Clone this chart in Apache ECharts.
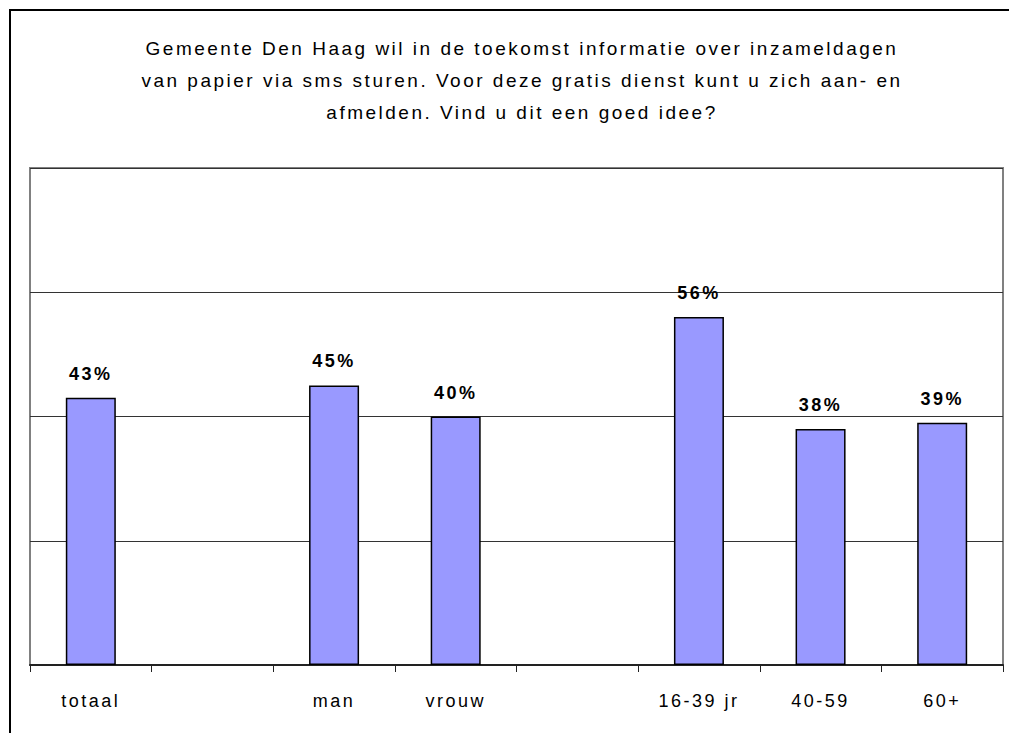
<!DOCTYPE html>
<html>
<head>
<meta charset="utf-8">
<script src="https://cdn.jsdelivr.net/npm/echarts@6/dist/echarts.min.js"></script>
<style>
  html, body { margin: 0; padding: 0; background: #ffffff; }
  #chart { width: 1009px; height: 733px; }
  /* the typeface is set wide, with open tracking */
  #chart text { letter-spacing: 2.5px; }
</style>
</head>
<body>
<div id="chart"></div>
<script>
// Survey result: share answering "goed idee" per group
const categories = ['totaal', '', 'man', 'vrouw', '', '16-39 jr', '40-59', '60+'];
const values = [43, null, 45, 40, null, 56, 38, 39];
const titleLines = [
  'Gemeente Den Haag wil in de toekomst informatie over inzameldagen',
  'van papier via sms sturen. Voor deze gratis dienst kunt u zich aan- en',
  'afmelden. Vind u dit een goed idee?'
];

const chart = echarts.init(document.getElementById('chart'), null, { renderer: 'svg' });

chart.setOption({
  animation: false,
  backgroundColor: '#ffffff',
  title: {
    text: titleLines.join('\n'),
    left: 517,
    top: 27,
    textAlign: 'center',
    textStyle: {
      fontFamily: 'Liberation Sans, Arial, sans-serif',
      fontSize: 19,
      fontWeight: 'normal',
      color: '#000000',
      lineHeight: 32
    }
  },
  graphic: [
    {
      type: 'rect',
      shape: { x: 10, y: 10, width: 1100, height: 800 },
      style: { fill: 'none', stroke: '#000000', lineWidth: 2 },
      silent: true
    }
  ],
  grid: {
    left: 30,
    right: 6,
    top: 168,
    bottom: 68,
    show: true,
    borderColor: '#808080',
    borderWidth: 2,
    backgroundColor: '#ffffff'
  },
  xAxis: {
    type: 'category',
    data: categories,
    boundaryGap: true,
    axisLine: { show: true, lineStyle: { color: '#222222', width: 2 } },
    axisTick: { show: true, alignWithLabel: false, length: 7, lineStyle: { color: '#222222', width: 1 } },
    axisLabel: {
      interval: 0,
      margin: 27,
      fontFamily: 'Liberation Sans, Arial, sans-serif',
      fontSize: 18,
      color: '#000000'
    }
  },
  yAxis: {
    type: 'value',
    min: 0,
    max: 80,
    interval: 20,
    axisLine: { show: false },
    axisTick: { show: false },
    axisLabel: { show: false },
    splitLine: { show: true, lineStyle: { color: '#333333', width: 1.2 } }
  },
  series: [
    {
      type: 'bar',
      data: values,
      barWidth: 50,
      itemStyle: { color: '#9999ff', borderColor: '#000000', borderWidth: 1.5 },
      label: {
        show: true,
        position: 'top',
        distance: 15,
        formatter: p => p.value + '%',
        fontFamily: 'Liberation Sans, Arial, sans-serif',
        fontSize: 18,
        fontWeight: 'bold',
        color: '#000000'
      }
    }
  ]
});
</script>
</body>
</html>
